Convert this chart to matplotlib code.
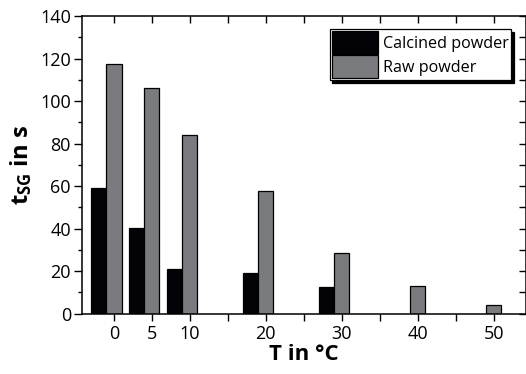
import matplotlib
matplotlib.use("Agg")
import matplotlib.pyplot as plt
import numpy as np
from matplotlib.ticker import MultipleLocator, FixedLocator, FixedFormatter

plt.rcParams["font.family"] = ["Open Sans", "DejaVu Sans"]
plt.rcParams["mathtext.fontset"] = "custom"
plt.rcParams["mathtext.rm"] = "Open Sans"
plt.rcParams["mathtext.bf"] = "Open Sans:bold"
plt.rcParams["mathtext.it"] = "Open Sans:italic"

# Solidification time per temperature
temps_calcined = [0, 5, 10, 20, 30]
t_calcined = [59, 40.2, 21.2, 19.0, 12.6]
temps_raw = [0, 5, 10, 20, 30, 40, 50]
t_raw = [117.5, 106, 84, 57.6, 28.4, 13.0, 4.1]
tick_labels = ["0", "5", "10", "20", "30", "40", "50"]
series_names = ["Calcined powder", "Raw powder"]

fig = plt.figure(figsize=(5.26, 3.74), dpi=100)
ax = fig.add_axes([0.1559, 0.1612, 0.8441, 0.796])

w = 2.0
ax.bar(np.array(temps_calcined) - w, t_calcined, width=w, color="#020207",
       edgecolor="black", linewidth=0.9, label=series_names[0], zorder=2)
ax.bar(np.array(temps_raw), t_raw, width=w, color="#7a7b7f",
       edgecolor="black", linewidth=0.9, label=series_names[1], zorder=2)

ax.set_xlim(-4.2, 54.25)
ax.set_ylim(0, 140)

ax.xaxis.set_major_locator(FixedLocator(temps_raw))
ax.xaxis.set_major_formatter(FixedFormatter(tick_labels))
ax.xaxis.set_minor_locator(FixedLocator([15, 25, 35, 45]))
ax.yaxis.set_major_locator(MultipleLocator(20))
ax.yaxis.set_minor_locator(MultipleLocator(10))

ax.tick_params(axis="x", which="both", direction="out", length=5, width=1,
               top=True, labelsize=13, pad=3)
ax.tick_params(axis="y", which="major", direction="out", length=6, width=1,
               right=True, labelsize=13, pad=2)
ax.tick_params(axis="y", which="minor", direction="out", length=3, width=1,
               right=True)
# inward ticks on the top and right edges
for t in ax.xaxis.get_major_ticks() + ax.xaxis.get_minor_ticks():
    t.tick2line.set_marker(3)
    t.tick2line.set_markersize(5)
for t in ax.yaxis.get_major_ticks() + ax.yaxis.get_minor_ticks():
    t.tick2line.set_marker(0)
    t.tick2line.set_markersize(5)

for s in ax.spines.values():
    s.set_linewidth(1.1)

ax.set_xlabel("T in °C", fontsize=16, fontweight="bold", labelpad=1)
ax.set_ylabel(r"$\mathbf{t_{SG}}$ in s", fontsize=17, fontweight="bold", labelpad=4)

leg = ax.legend(loc="upper right", bbox_to_anchor=(0.966, 0.956), fontsize=11.6,
                frameon=True, fancybox=False, edgecolor="black",
                shadow={"color": "black", "alpha": 1.0, "shade": 0},
                handlelength=2.9, handleheight=1.82, labelspacing=0.08,
                borderpad=0.12, handletextpad=0.3, borderaxespad=0.0)
leg.get_frame().set_linewidth(0.9)

fig.savefig("out.png", dpi=100)
